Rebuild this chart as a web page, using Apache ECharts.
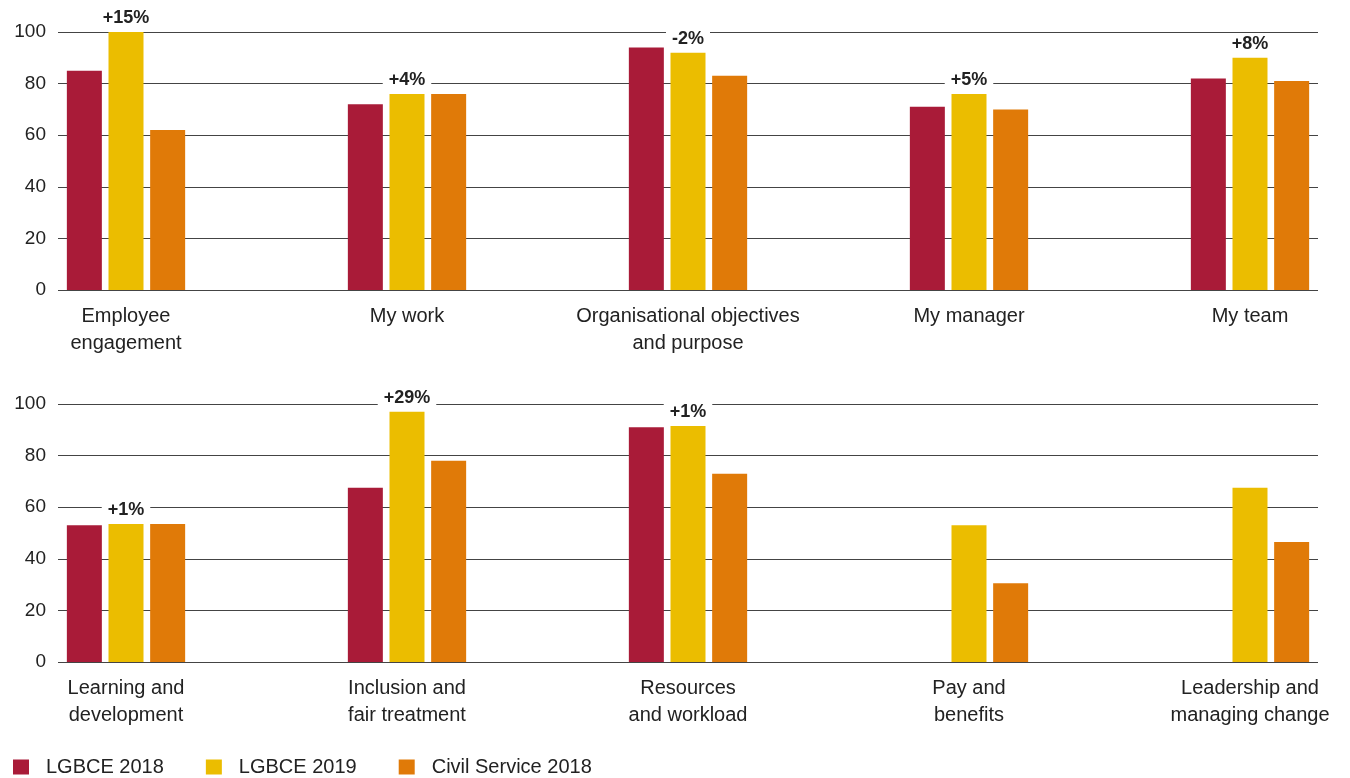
<!DOCTYPE html>
<html>
<head>
<meta charset="utf-8">
<script src="https://cdn.jsdelivr.net/npm/echarts@6/dist/echarts.min.js"></script>
<style>
  html, body { margin: 0; padding: 0; background: #fff; }
  #chart { width: 1350px; height: 778px; }
</style>
</head>
<body>
<div id="chart"></div>
<script>
// survey scores by theme
const seriesNames = ["LGBCE 2018", "LGBCE 2019", "Civil Service 2018"];
const colors = ["#A91B38", "#EBBD00", "#E07A08"];

const topCategories = ["Employee\nengagement", "My work", "Organisational objectives\nand purpose", "My manager", "My team"];
const topLgbce2018 = [85, 72, 94, 71, 82];
const topLgbce2019 = [100, 76, 92, 76, 90];
const topCivil2018 = [62, 76, 83, 70, 81];
const topChange = ["+15%", "+4%", "-2%", "+5%", "+8%"];

const bottomCategories = ["Learning and\ndevelopment", "Inclusion and\nfair treatment", "Resources\nand workload", "Pay and\nbenefits", "Leadership and\nmanaging change"];
const bottomLgbce2018 = [53, 67.5, 91, null, null];
const bottomLgbce2019 = [53.5, 97, 91.5, 53, 67.5];
const bottomCivil2018 = [53.5, 78, 73, 30.5, 46.5];
const bottomChange = ["+1%", "+29%", "+1%", "", ""];

const yTicks = [0, 20, 40, 60, 80, 100];

const font = "Liberation Sans";
const textColor = "#222";

const chart = echarts.init(document.getElementById("chart"));

// groups sit on a value axis so the outer groups keep their inset from the gridline ends
const slots = [0, 1, 2, 3, 4];
const edge = 0.242;

function panelSeries(idx, a, b, c, changes) {
  const base = { type: "bar", xAxisIndex: idx, yAxisIndex: idx, barWidth: 35, barGap: "19%", animation: false };
  return [
    Object.assign({}, base, { name: seriesNames[0], data: a.map((v, i) => [slots[i], v]), itemStyle: { color: colors[0] } }),
    Object.assign({}, base, {
      name: seriesNames[1],
      itemStyle: { color: colors[1] },
      data: b.map((v, i) => ({ value: [slots[i], v], label: { show: changes[i] !== "" } })),
      label: {
        position: "top",
        distance: 4,
        formatter: p => changes[p.dataIndex],
        fontFamily: font,
        fontWeight: "bold",
        fontSize: 18,
        color: textColor,
        backgroundColor: "#fff",
        padding: [1, 6]
      }
    }),
    Object.assign({}, base, { name: seriesNames[2], data: c.map((v, i) => [slots[i], v]), itemStyle: { color: colors[2] } })
  ];
}

function xAxis(gridIndex, cats) {
  return {
    type: "value", gridIndex: gridIndex, min: slots[0] - edge, max: slots[slots.length - 1] + edge,
    axisLine: { show: false }, axisTick: { show: false }, splitLine: { show: false },
    axisLabel: {
      customValues: slots,
      formatter: v => cats[Math.round(v)],
      margin: 13, fontFamily: font, fontSize: 20, lineHeight: 27, color: textColor
    }
  };
}

function yAxis(gridIndex) {
  return {
    type: "value", gridIndex: gridIndex, min: yTicks[0], max: yTicks[yTicks.length - 1], interval: 20,
    axisLine: { show: false }, axisTick: { show: false },
    axisLabel: { margin: 12, fontFamily: font, fontSize: 19, color: textColor },
    splitLine: { show: true, lineStyle: { color: "#444", width: 1 } }
  };
}

chart.setOption({
  backgroundColor: "#fff",
  animation: false,
  legend: {
    left: 13, top: 757, padding: 0,
    itemWidth: 16, itemHeight: 15, itemGap: 42,
    icon: "rect",
    data: seriesNames,
    textStyle: { fontFamily: font, fontSize: 20, color: textColor, padding: [0, 0, 0, 12] }
  },
  grid: [
    { left: 58, right: 32, top: 32, height: 258 },
    { left: 58, right: 32, top: 404, height: 258 }
  ],
  xAxis: [xAxis(0, topCategories), xAxis(1, bottomCategories)],
  yAxis: [yAxis(0), yAxis(1)],
  series: [].concat(
    panelSeries(0, topLgbce2018, topLgbce2019, topCivil2018, topChange),
    panelSeries(1, bottomLgbce2018, bottomLgbce2019, bottomCivil2018, bottomChange)
  )
});
</script>
</body>
</html>
